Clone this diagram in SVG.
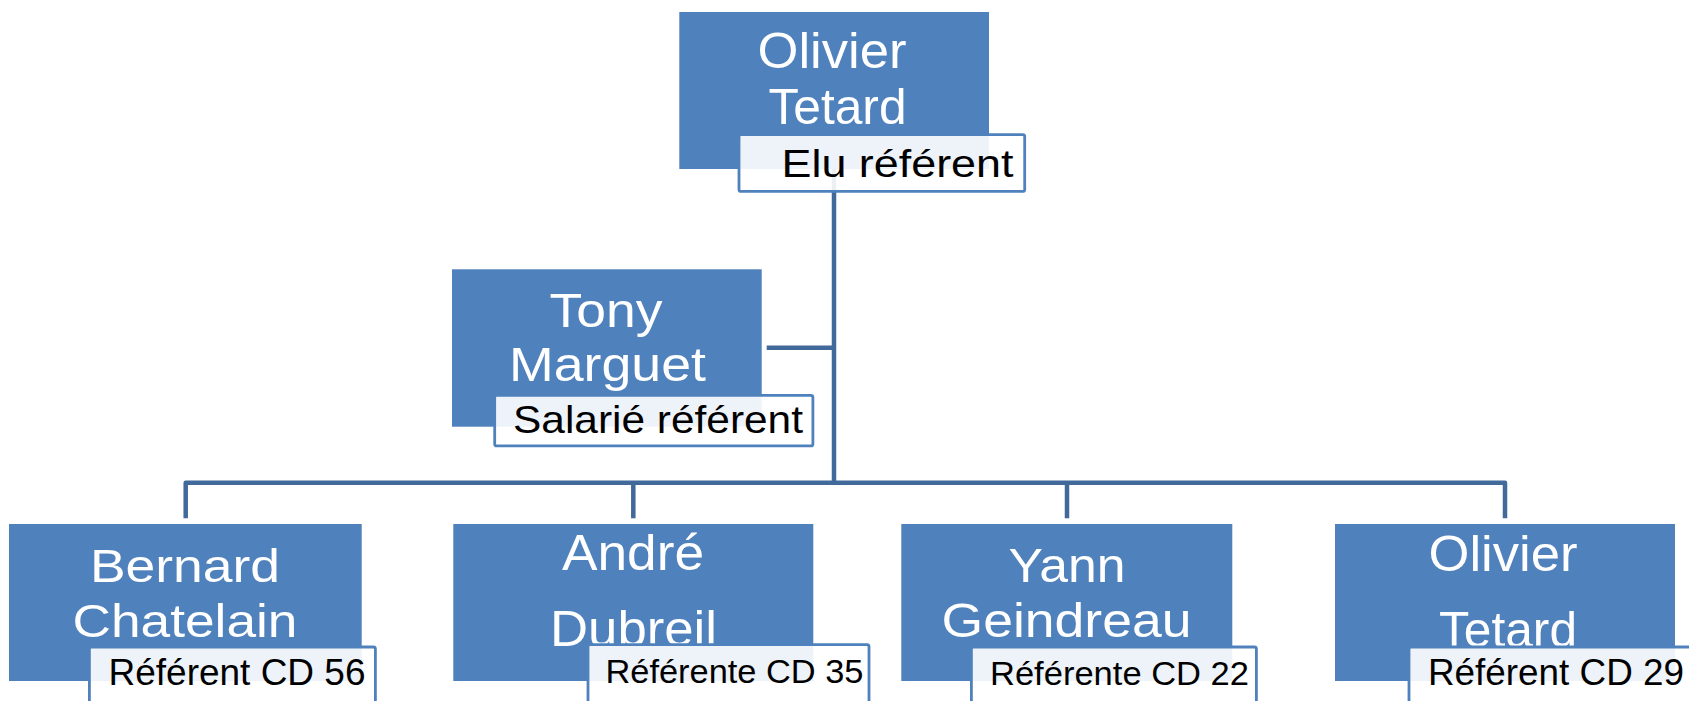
<svg xmlns="http://www.w3.org/2000/svg" width="1689" height="701" viewBox="0 0 1689 701">
<style>
.box{fill:#4F81BD;}
.lbl{fill:#FFFFFF;fill-opacity:0.9;stroke:#4F81BD;stroke-width:2.8;}
.name{font-family:"Liberation Sans",Arial,sans-serif;fill:#FFFFFF;}
.role{font-family:"Liberation Sans",Arial,sans-serif;fill:#000000;}
.conn{fill:none;stroke:#41699A;stroke-width:4.5;stroke-linejoin:round;}
</style>
<rect width="1689" height="701" fill="#FFFFFF"/>
<g id="connectors">
<path class="conn" d="M834,169 V482.7"/>
<path class="conn" d="M766.7,347.7 H834"/>
<path class="conn" d="M185.7,518.3 V482.7 H1505 V518.3"/>
<path class="conn" d="M633.3,482.7 V518.3"/>
<path class="conn" d="M1067,482.7 V518.3"/>
</g>
<g id="node-olivier-top">
<rect class="box" x="679.3" y="12" width="309.7" height="157"/>
<text class="name" x="757.5" y="68.3" font-size="50" textLength="149" lengthAdjust="spacingAndGlyphs">Olivier</text>
<text class="name" x="768.5" y="124" font-size="50" textLength="138" lengthAdjust="spacingAndGlyphs">Tetard</text>
<rect class="lbl" x="739" y="134.6" width="285.7" height="56.8" rx="2"/>
<text class="role" x="781.5" y="176.7" font-size="39.5" textLength="232" lengthAdjust="spacingAndGlyphs">Elu référent</text>
</g>
<g id="node-tony">
<rect class="box" x="452" y="269.3" width="309.7" height="157.4"/>
<text class="name" x="549.5" y="327.3" font-size="49" textLength="113" lengthAdjust="spacingAndGlyphs">Tony</text>
<text class="name" x="509" y="380.7" font-size="49" textLength="197" lengthAdjust="spacingAndGlyphs">Marguet</text>
<rect class="lbl" x="494.7" y="395.4" width="318.2" height="50.5" rx="2"/>
<text class="role" x="513" y="432.7" font-size="38.7" textLength="290" lengthAdjust="spacingAndGlyphs">Salarié référent</text>
</g>
<g id="node-bernard">
<rect class="box" x="9" y="524" width="352.7" height="157"/>
<text class="name" x="90" y="581.7" font-size="47" textLength="190" lengthAdjust="spacingAndGlyphs">Bernard</text>
<text class="name" x="72.5" y="636.7" font-size="47" textLength="225" lengthAdjust="spacingAndGlyphs">Chatelain</text>
<rect class="lbl" x="89.4" y="647" width="286" height="58" rx="2"/>
<text class="role" x="108.5" y="685" font-size="36" textLength="257" lengthAdjust="spacingAndGlyphs">Référent CD 56</text>
</g>
<g id="node-andre">
<rect class="box" x="453.3" y="524" width="360" height="157"/>
<text class="name" x="562" y="570" font-size="50" textLength="142" lengthAdjust="spacingAndGlyphs">André</text>
<text class="name" x="550" y="646" font-size="50" textLength="167" lengthAdjust="spacingAndGlyphs">Dubreil</text>
<rect class="lbl" x="588" y="644.6" width="281" height="60" rx="2"/>
<text class="role" x="605.5" y="683.3" font-size="32.6" textLength="258" lengthAdjust="spacingAndGlyphs">Référente CD 35</text>
</g>
<g id="node-yann">
<rect class="box" x="901.3" y="524" width="331" height="157"/>
<text class="name" x="1008.5" y="581.7" font-size="49" textLength="117" lengthAdjust="spacingAndGlyphs">Yann</text>
<text class="name" x="941.5" y="636.7" font-size="49" textLength="250" lengthAdjust="spacingAndGlyphs">Geindreau</text>
<rect class="lbl" x="971.4" y="647" width="285" height="58" rx="2"/>
<text class="role" x="990" y="685" font-size="32.6" textLength="259" lengthAdjust="spacingAndGlyphs">Référente CD 22</text>
</g>
<g id="node-olivier-cd29">
<rect class="box" x="1335" y="524" width="340" height="157"/>
<text class="name" x="1428.5" y="571" font-size="50" textLength="149" lengthAdjust="spacingAndGlyphs">Olivier</text>
<text class="name" x="1439" y="646.7" font-size="50" textLength="138" lengthAdjust="spacingAndGlyphs">Tetard</text>
<rect class="lbl" x="1409" y="647" width="300" height="58" rx="2"/>
<text class="role" x="1428" y="685" font-size="36" textLength="256" lengthAdjust="spacingAndGlyphs">Référent CD 29</text>
</g>
</svg>
